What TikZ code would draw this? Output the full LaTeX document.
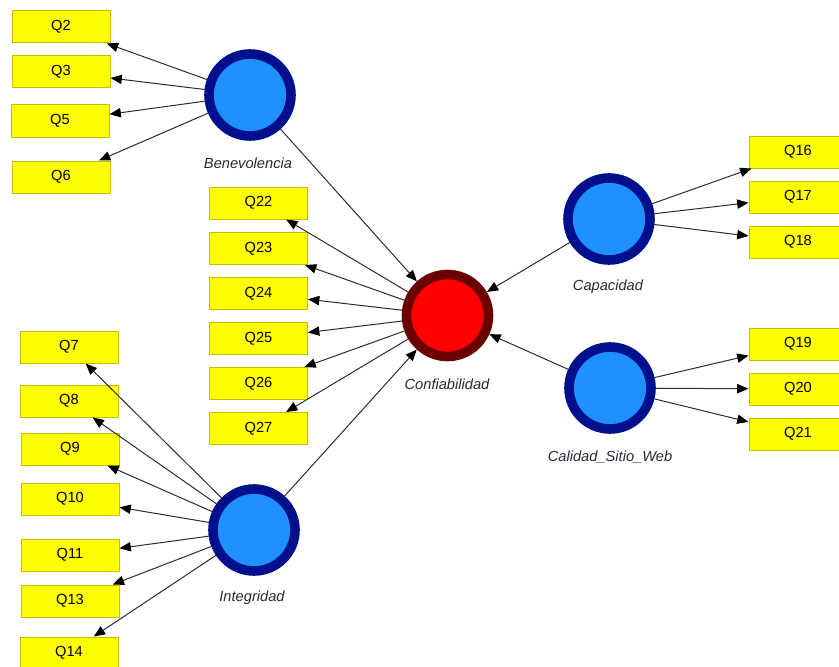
\documentclass[tikz,border=0pt]{standalone}
\usepackage{fontspec}
\setmainfont{Liberation Sans}
\usetikzlibrary{arrows.meta}
\definecolor{boxyellow}{RGB}{255,255,0}
\definecolor{boxedge}{RGB}{200,190,0}
\definecolor{navyring}{RGB}{0,16,140}
\definecolor{bluefill}{RGB}{30,144,255}
\definecolor{redring}{RGB}{107,0,0}
\definecolor{redfill}{RGB}{255,0,0}
\definecolor{lbl}{RGB}{40,40,55}
\definecolor{linec}{RGB}{45,45,45}
\tikzset{
  ind/.style={draw=boxedge, fill=boxyellow, line width=0.75pt, minimum width=73.5pt, minimum height=24pt, inner sep=0pt, font=\fontsize{11}{13}\selectfont},
  latb/.style={circle, draw=navyring, fill=bluefill, line width=7.2pt, minimum size=61.5pt, inner sep=0pt, outer sep=3.6pt},
  latr/.style={circle, draw=redring, fill=redfill, line width=7.2pt, minimum size=61.5pt, inner sep=0pt, outer sep=3.6pt},
  lab/.style={text=lbl, font=\fontsize{11}{13}\selectfont\itshape},
  conn/.style={draw=linec, line width=0.75pt, -{Triangle[length=8.5pt,width=7pt,color=black]}}
}
\begin{document}
\begin{tikzpicture}[x=0.75pt,y=-0.75pt]
\useasboundingbox[fill=white] (0,0) rectangle (839,667);
% indicators
\node[ind] (q2) at (61,27) {Q2};
\node[ind] (q3) at (61,72) {Q3};
\node[ind] (q5) at (60,121) {Q5};
\node[ind] (q6) at (61,177) {Q6};
\node[ind] (q22) at (258.5,203) {Q22};
\node[ind] (q23) at (258.5,248.5) {Q23};
\node[ind] (q24) at (258.5,293.5) {Q24};
\node[ind] (q25) at (258.5,338.5) {Q25};
\node[ind] (q26) at (258.5,383.5) {Q26};
\node[ind] (q27) at (258.5,428.5) {Q27};
\node[ind] (q16) at (798,152) {Q16};
\node[ind] (q17) at (798,197) {Q17};
\node[ind] (q18) at (798,242) {Q18};
\node[ind] (q19) at (798,344) {Q19};
\node[ind] (q20) at (798,389) {Q20};
\node[ind] (q21) at (798,434) {Q21};
\node[ind] (q7) at (69,347) {Q7};
\node[ind] (q8) at (69,401) {Q8};
\node[ind] (q9) at (70,449) {Q9};
\node[ind] (q10) at (70,499) {Q10};
\node[ind] (q11) at (70,555) {Q11};
\node[ind] (q13) at (70,601) {Q13};
\node[ind] (q14) at (69,653) {Q14};
% latent variables
\node[latb] (ben) at (250,95) {};
\node[latr] (conf) at (447.5,315.5) {};
\node[latb] (cap) at (609,219) {};
\node[latb] (cal) at (610,388) {};
\node[latb] (int) at (254,530) {};
% labels
\node[lab] (lben) at (248,163) {Benevolencia};
\node[lab] (lconf) at (447,384) {Confiabilidad};
\node[lab] (lcap) at (608,287) {Capacidad};
\node[lab] (lcal) at (610,457) {Calidad\_Sitio\_Web};
\node[lab] (lint) at (252,598) {Integridad};
% outer model
\foreach \q in {q2,q3,q5,q6} \draw[conn] (ben) -- (\q);
\foreach \q in {q22,q23,q24,q25,q26,q27} \draw[conn] (conf) -- (\q);
\foreach \q in {q16,q17,q18} \draw[conn] (cap) -- (\q);
\foreach \q in {q19,q20,q21} \draw[conn] (cal) -- (\q);
\foreach \q in {q7,q8,q9,q10,q11,q13,q14} \draw[conn] (int) -- (\q);
% inner model
\draw[conn] (ben) -- (conf);
\draw[conn] (int) -- (conf);
\draw[conn] (cap) -- (conf);
\draw[conn] (cal) -- (conf);
\end{tikzpicture}
\end{document}
